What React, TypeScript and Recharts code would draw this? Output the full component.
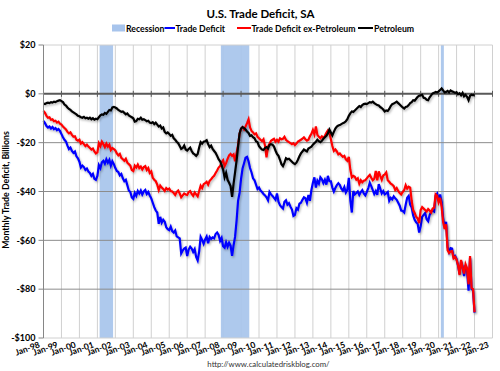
import { LineChart, Line, XAxis, YAxis, CartesianGrid, ReferenceArea, ReferenceLine } from 'recharts';

const FONT = 'Lato, "Open Sans", sans-serif';

const X_TICK_LABELS = [
  'Jan-98', 'Jan-99', 'Jan-00', 'Jan-01', 'Jan-02', 'Jan-03', 'Jan-04', 'Jan-05', 'Jan-06',
  'Jan-07', 'Jan-08', 'Jan-09', 'Jan-10', 'Jan-11', 'Jan-12', 'Jan-13', 'Jan-14', 'Jan-15',
  'Jan-16', 'Jan-17', 'Jan-18', 'Jan-19', 'Jan-20', 'Jan-21', 'Jan-22', 'Jan-23',
];
const Y_TICKS = [20, 0, -20, -40, -60, -80, -100];

// first and last month of each recession
const RECESSION_START = ['Mar-01', 'Dec-07', 'Mar-20'];
const RECESSION_END = ['Nov-01', 'Jun-09', 'Apr-20'];

// monthly, Jan-98 .. Jan-22, $ billions
const TRADE_DEFICIT = [
  -11.1, -12.0, -13.2, -13.8, -13.4, -14.2, -13.6, -14.5, -14.0, -14.9, -14.4, -15.2,
  -16.5, -17.8, -18.8, -19.5, -21.2, -22.6, -22.0, -23.4, -24.2, -23.6, -25.6, -26.4,
  -27.8, -30.2, -29.4, -30.0, -31.2, -30.6, -31.8, -32.4, -33.6, -32.8, -34.8, -35.2,
  -33.6, -29.2, -30.4, -28.0, -27.4, -28.6, -26.8, -28.2, -27.0, -29.4, -27.6, -28.8,
  -30.4, -31.6, -32.0, -33.4, -32.8, -34.6, -35.8, -35.2, -37.4, -39.6, -40.2, -42.4,
  -43.0, -40.6, -41.8, -39.8, -40.8, -39.6, -41.2, -40.0, -39.4, -41.0, -40.2, -41.6,
  -42.8, -44.6, -46.4, -47.8, -48.6, -53.2, -50.4, -52.8, -51.6, -52.4, -54.6, -55.4,
  -55.8, -54.4, -56.2, -56.8, -56.0, -58.4, -58.8, -59.2, -65.4, -64.2, -63.4, -63.0,
  -66.4, -63.8, -62.6, -63.4, -64.8, -63.6, -66.8, -68.2, -64.6, -58.6, -59.8, -61.4,
  -59.6, -58.4, -61.2, -58.6, -59.4, -58.8, -59.2, -57.4, -56.8, -57.8, -60.2, -59.0,
  -62.4, -63.0, -60.8, -62.6, -61.0, -62.2, -66.4, -62.0, -58.6, -52.0, -43.8, -40.6,
  -34.8, -30.6, -28.4, -26.2, -25.8, -27.6, -30.4, -32.2, -34.6, -35.4, -37.2, -39.0,
  -38.4, -39.6, -40.2, -41.0, -41.6, -42.4, -43.6, -40.2, -41.2, -41.8, -42.6, -43.4,
  -40.8, -44.2, -45.6, -46.4, -47.0, -44.2, -43.6, -45.4, -44.8, -46.2, -47.4, -50.0,
  -49.6, -46.8, -47.4, -45.0, -44.6, -43.4, -42.4, -42.8, -44.6, -41.4, -43.8, -39.4,
  -36.4, -34.2, -38.4, -35.6, -36.8, -34.2, -35.0, -36.6, -35.2, -37.2, -33.6, -35.8,
  -35.8, -38.4, -40.0, -38.6, -37.4, -36.6, -37.4, -38.8, -39.6, -38.2, -40.4, -39.2,
  -34.4, -43.6, -48.6, -39.8, -41.2, -40.6, -40.0, -41.4, -40.2, -39.4, -40.8, -41.6,
  -40.2, -38.6, -36.4, -37.8, -39.4, -41.0, -39.8, -41.4, -37.0, -38.8, -40.8, -39.8,
  -41.2, -40.8, -40.2, -43.8, -42.6, -43.2, -42.0, -42.8, -43.4, -44.6, -45.8, -47.8,
  -48.0, -48.6, -45.4, -42.6, -41.8, -45.4, -46.6, -49.8, -51.6, -52.6, -53.2, -56.8,
  -54.2, -50.4, -49.6, -48.8, -51.4, -52.2, -49.6, -48.4, -47.8, -48.2, -41.6, -40.8,
  -43.6, -41.2, -44.4, -50.8, -54.6, -52.4, -62.8, -64.8, -63.2, -63.4, -66.8, -66.4,
  -67.6, -70.4, -73.8, -68.6, -70.6, -74.6, -70.2, -72.6, -80.6, -67.2, -79.8, -80.6,
  -89.6,
];

const EX_PETROLEUM = [
  -7.0, -7.8, -9.0, -9.8, -9.6, -10.6, -10.4, -11.2, -11.0, -11.8, -11.4, -12.2,
  -12.6, -13.4, -14.0, -14.6, -15.6, -16.2, -15.8, -16.8, -17.6, -17.4, -18.8, -19.2,
  -18.8, -20.4, -19.8, -20.6, -21.4, -20.8, -21.6, -22.2, -22.8, -22.4, -23.6, -24.4,
  -24.0, -20.2, -21.4, -19.6, -20.6, -21.8, -20.4, -21.6, -20.8, -23.0, -22.2, -22.6,
  -23.2, -24.4, -25.2, -24.6, -26.2, -26.8, -27.4, -26.6, -28.2, -28.8, -29.4, -31.2,
  -31.6, -29.4, -30.2, -29.0, -30.4, -29.8, -31.0, -30.0, -29.6, -31.2, -30.4, -32.4,
  -31.8, -34.4, -35.2, -35.8, -37.2, -39.4, -37.6, -38.4, -39.0, -39.8, -38.6, -39.2,
  -38.8, -39.8, -40.0, -40.6, -41.4, -40.2, -39.6, -40.8, -42.4, -41.6, -40.8, -41.2,
  -41.4, -40.2, -39.8, -41.0, -41.8, -40.4, -41.2, -42.0, -39.8, -37.6, -38.6, -37.0,
  -36.6, -36.0, -37.2, -35.6, -35.0, -34.2, -33.6, -32.4, -31.4, -30.2, -29.6, -28.0,
  -27.2, -29.6, -28.4, -26.6, -25.2, -24.6, -25.4, -24.8, -27.6, -24.2, -21.0, -16.4,
  -14.2, -13.6, -14.6, -13.4, -12.0, -10.4, -13.8, -15.2, -15.8, -16.6, -16.2, -17.6,
  -18.2, -18.8, -19.4, -18.6, -21.2, -26.0, -21.6, -20.4, -19.2, -18.8, -18.4, -19.6,
  -18.8, -19.6, -18.2, -18.6, -18.4, -17.6, -18.8, -19.4, -19.8, -20.2, -20.6, -20.2,
  -21.0, -20.4, -19.6, -19.2, -18.8, -18.4, -17.8, -18.6, -19.2, -18.8, -17.4, -16.4,
  -14.8, -16.6, -13.4, -16.8, -17.6, -18.2, -17.4, -18.0, -17.2, -16.0, -15.0, -15.8,
  -18.6, -21.4, -23.4, -22.8, -23.6, -24.8, -24.4, -25.2, -25.8, -25.4, -26.8, -27.4,
  -25.8, -31.0, -34.2, -33.6, -34.0, -35.2, -34.6, -36.8, -35.4, -36.2, -35.6, -35.4,
  -34.6, -33.8, -33.2, -34.4, -35.4, -34.8, -31.6, -35.4, -31.8, -33.6, -35.2, -33.4,
  -33.0, -32.2, -35.4, -36.0, -36.8, -37.2, -37.8, -39.4, -38.6, -39.8, -40.6, -41.2,
  -40.2, -39.4, -37.4, -38.8, -38.0, -38.4, -43.8, -47.6, -48.8, -50.4, -51.0, -53.0,
  -47.6, -46.4, -47.0, -47.6, -48.2, -47.2, -47.8, -48.6, -47.0, -46.6, -41.2, -41.8,
  -44.4, -42.6, -46.2, -52.4, -55.4, -53.4, -64.0, -65.2, -64.6, -64.4, -67.4, -66.8,
  -68.0, -70.2, -74.2, -68.0, -71.0, -73.6, -69.8, -71.4, -78.0, -66.4, -79.4, -80.0,
  -89.4,
];

const PETROLEUM = [
  -4.0, -4.2, -3.8, -3.6, -3.8, -3.4, -3.6, -3.2, -3.4, -3.0, -2.8, -2.6,
  -3.0, -3.4, -4.4, -4.8, -5.6, -6.2, -6.6, -7.2, -7.6, -8.0, -8.4, -9.0,
  -9.2, -9.6, -9.8, -9.4, -10.0, -9.8, -10.2, -9.8, -10.4, -10.0, -10.6, -10.2,
  -10.4, -9.6, -8.8, -8.4, -8.6, -7.8, -8.2, -7.4, -6.6, -6.8, -5.6, -5.4,
  -5.6, -6.0, -6.6, -7.0, -7.4, -7.2, -7.8, -8.4, -8.0, -8.8, -9.2, -9.6,
  -10.0, -11.4, -11.2, -10.2, -10.4, -9.8, -10.6, -10.4, -10.8, -11.2, -11.0, -11.8,
  -12.0, -11.6, -12.4, -11.8, -12.6, -13.4, -13.0, -14.2, -13.8, -15.6, -16.2, -15.8,
  -16.4, -17.2, -16.8, -18.2, -18.8, -19.6, -20.2, -21.4, -22.6, -22.2, -21.2, -22.8,
  -23.2, -22.6, -22.0, -23.4, -24.4, -24.8, -25.4, -24.6, -22.0, -19.8, -20.4, -19.6,
  -19.4, -19.0, -20.6, -21.8, -21.2, -22.6, -23.4, -24.2, -25.4, -26.8, -27.6, -29.2,
  -31.0, -34.2, -32.4, -35.2, -36.4, -37.8, -42.2, -36.8, -32.2, -27.4, -21.6, -16.2,
  -14.2, -13.6, -14.0, -14.6, -15.4, -16.0, -17.2, -17.0, -17.8, -18.2, -19.4, -19.8,
  -21.4, -22.2, -22.8, -23.0, -22.2, -21.8, -22.4, -21.0, -20.6, -20.8, -21.6, -23.2,
  -24.6, -25.4, -27.0, -28.8, -29.6, -28.2, -26.4, -26.8, -26.6, -27.2, -27.8, -28.4,
  -28.8, -28.2, -27.0, -25.6, -24.4, -23.6, -22.8, -23.2, -23.6, -22.4, -22.0, -21.6,
  -20.8, -20.2, -19.6, -18.8, -19.4, -19.8, -19.2, -18.4, -17.8, -17.2, -16.2, -14.6,
  -15.8, -17.0, -15.6, -14.2, -13.4, -13.0, -12.8, -12.4, -12.0, -11.8, -11.2, -10.4,
  -9.0, -8.0, -7.2, -7.4, -6.8, -6.2, -5.6, -5.0, -5.4, -4.6, -4.2, -4.0,
  -4.2, -3.8, -3.4, -3.6, -3.2, -3.8, -4.2, -4.6, -4.8, -5.4, -5.8, -6.4,
  -7.2, -6.8, -7.0, -6.2, -5.0, -4.2, -4.0, -3.6, -3.2, -3.8, -4.4, -5.0,
  -5.6, -6.0, -5.4, -5.2, -4.6, -3.8, -3.4, -2.6, -2.8, -2.0, -1.2, -0.8,
  -0.6, -0.4, -1.6, -1.8, -2.4, -2.6, -1.4, -0.6, 0.2, 0.4, 0.8, 0.6,
  1.0, 1.6, 2.2, 1.4, 0.6, 0.8, 1.2, 0.6, 1.4, 1.0, 0.8, 0.4,
  0.6, -0.2, 0.2, -0.6, 0.4, -1.0, -0.4, -1.2, -2.6, -0.8, -0.4, -0.6,
  -0.2,
];

const MONTHS = ['Jan', 'Feb', 'Mar', 'Apr', 'May', 'Jun', 'Jul', 'Aug', 'Sep', 'Oct', 'Nov', 'Dec'];

// month label like 'Mar-01' -> months since Jan-98
const monthIndex = (label: string) => {
  const [m, yy] = label.split('-');
  const year = Number(yy) < 50 ? 2000 + Number(yy) : 1900 + Number(yy);
  return (year - 1998) * 12 + MONTHS.indexOf(m);
};

const data = TRADE_DEFICIT.map((v, i) => ({
  t: i,
  total: v,
  exPet: EX_PETROLEUM[i],
  pet: PETROLEUM[i],
}));

const xTicks = X_TICK_LABELS.map((l) => monthIndex(l));
const fmtY = (v: number) => (v < 0 ? `-$${-v}` : `$${v}`);

const BAND = '#a7c4ec';

const XTick = ({ x, y, payload }: any) => (
  <text
    transform={`translate(${x - 3},${y + 1}) rotate(-20)`}
    textAnchor="end"
    fontSize={8.5}
    fontWeight={700}
    fontFamily={FONT}
    fill="#000"
  >
    {X_TICK_LABELS[xTicks.indexOf(payload.value)]}
  </text>
);

// horizontal axis crosses at $0: thick line with small ticks
const ZeroAxis = (props: any) => {
  const { x1, x2, y1 } = props;
  const step = (x2 - x1) / (xTicks.length - 1);
  return (
    <g>
      <line x1={x1} x2={x2} y1={y1} y2={y1} stroke="#595959" strokeWidth={2} />
      {xTicks.map((_, i) => (
        <line key={i} x1={x1 + i * step} x2={x1 + i * step} y1={y1 - 3} y2={y1 + 3} stroke="#595959" strokeWidth={1} />
      ))}
    </g>
  );
};

export default function App() {
  return (
    <div style={{ position: 'absolute', left: 0, top: 0, width: 500, height: 371, background: '#fff' }}>
      <LineChart width={500} height={371} data={data} margin={{ top: 45, right: 7.5, bottom: 3, left: 0.5 }}>
        <defs>
          <filter id="lineShadow" x="-5%" y="-10%" width="110%" height="130%">
            <feDropShadow dx="1" dy="1.5" stdDeviation="0.8" floodColor="#000" floodOpacity="0.3" />
          </filter>
        </defs>
        <CartesianGrid horizontal={false} stroke="#d0d0d0" strokeWidth={1} />
        {RECESSION_START.map((s, i) => (
          <ReferenceArea
            key={s}
            x1={monthIndex(s) - 0.5}
            x2={monthIndex(RECESSION_END[i]) + 0.5}
            y1={-100}
            y2={20}
            fill={BAND}
            fillOpacity={0.92}
            stroke="none"
          />
        ))}
        {Y_TICKS.filter((v) => v !== 0).map((v) => (
          <ReferenceLine
            key={v}
            y={v}
            stroke={v === 20 || v === -100 ? '#d0d0d0' : '#8c8c8c'}
            strokeWidth={1}
          />
        ))}
        <XAxis
          type="number"
          dataKey="t"
          domain={[0, 300]}
          ticks={xTicks}
          interval={0}
          height={30}
          axisLine={false}
          tickLine={false}
          tickSize={6}
          tickMargin={2}
          tick={<XTick />}
        />
        <YAxis
          domain={[-100, 20]}
          ticks={Y_TICKS}
          interval={0}
          width={43}
          tickFormatter={fmtY}
          axisLine={{ stroke: '#868686' }}
          tickLine={{ stroke: '#868686' }}
          tickSize={5}
          tickMargin={3}
          tick={{ fontSize: 9, fontWeight: 700, fontFamily: FONT, fill: '#000' }}
        />
        <ReferenceLine y={0} shape={<ZeroAxis />} />
        <Line
          dataKey="total"
          name="Trade Deficit"
          stroke="#0000ff"
          strokeWidth={2.2}
          dot={false}
          isAnimationActive={false}
          filter="url(#lineShadow)"
        />
        <Line
          dataKey="exPet"
          name="Trade Deficit ex-Petroleum"
          stroke="#ff0000"
          strokeWidth={2.2}
          dot={false}
          isAnimationActive={false}
          filter="url(#lineShadow)"
        />
        <Line
          dataKey="pet"
          name="Petroleum"
          stroke="#000000"
          strokeWidth={2.2}
          dot={false}
          isAnimationActive={false}
          filter="url(#lineShadow)"
        />
      </LineChart>
      <svg
        width={500}
        height={371}
        style={{ position: 'absolute', left: 0, top: 0, pointerEvents: 'none' }}
        fontFamily={FONT}
      >
        <text x={260.5} y={18} textAnchor="middle" fontSize={11.5} fontWeight={700} fill="#000">
          U.S. Trade Deficit, SA
        </text>
        <g fontSize={8.7} fontWeight={700} fill="#000">
          <rect x={112} y={24.5} width={13} height={7} fill={BAND} />
          <text x={126} y={31.5}>Recession</text>
          <line x1={164.5} x2={175} y1={28} y2={28} stroke="#0000ff" strokeWidth={2} />
          <text x={175.5} y={31.5}>Trade Deficit</text>
          <line x1={237} x2={251} y1={28} y2={28} stroke="#ff0000" strokeWidth={2} />
          <text x={251.5} y={31.5}>Trade Deficit ex-Petroleum</text>
          <line x1={358} x2={373} y1={28} y2={28} stroke="#000" strokeWidth={2} />
          <text x={374} y={31.5}>Petroleum</text>
        </g>
        <text
          transform="translate(9,190) rotate(-90)"
          textAnchor="middle"
          fontSize={8.8}
          fontWeight={700}
          fill="#000"
        >
          Monthly Trade Deficit, Billions
        </text>
        <text x={268.5} y={367} textAnchor="middle" fontSize={7.8} fill="#333">
          http://www.calculatedriskblog.com/
        </text>
      </svg>
    </div>
  );
}
